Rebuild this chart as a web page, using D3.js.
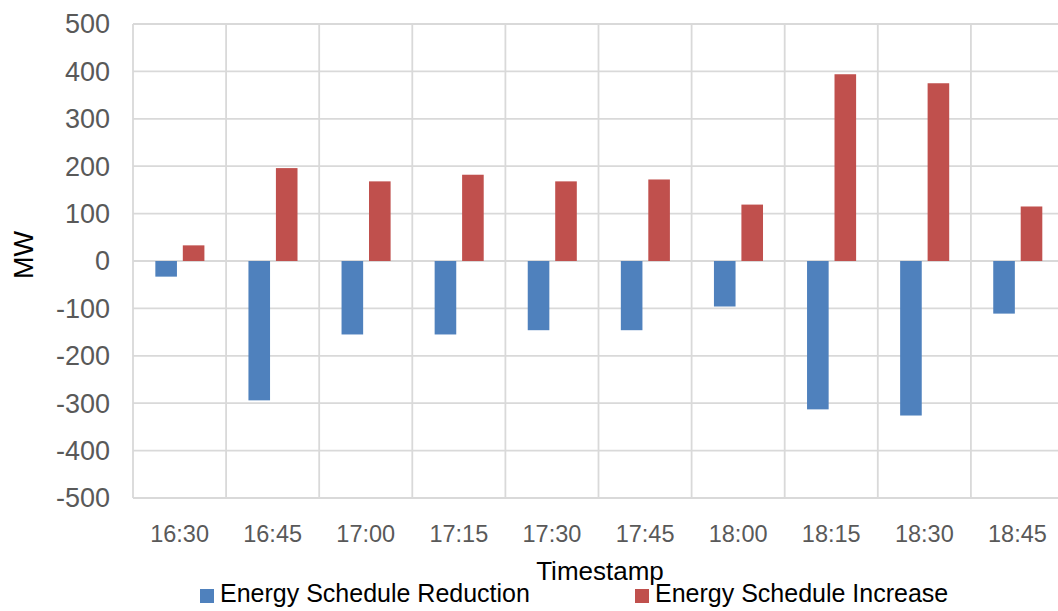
<!DOCTYPE html>
<html>
<head>
<meta charset="utf-8">
<script src="https://cdn.jsdelivr.net/npm/d3@7"></script>
<style>
  body { margin: 0; background: #fff; }
  svg { display: block; font-family: "Liberation Sans", Arial, sans-serif; }
</style>
</head>
<body>
<svg id="chart" width="1058" height="611"></svg>
<script>
// data
var timestamps = ["16:30", "16:45", "17:00", "17:15", "17:30", "17:45", "18:00", "18:15", "18:30", "18:45"];
var reduction = [-33, -294, -155, -155, -146, -146, -96, -313, -326, -111];
var increase = [33, 196, 168, 182, 168, 172, 119, 394, 375, 115];
var yTicks = [500, 400, 300, 200, 100, 0, -100, -200, -300, -400, -500];
var seriesNames = ["Energy Schedule Reduction", "Energy Schedule Increase"];
var colors = ["#4F81BD", "#C0504D"];

var svg = d3.select('#chart');
// plot box (right edge runs past the picture, as in the original crop)
var plotLeft = 133, plotRight = 1064, plotTop = 24, plotBottom = 498;

var x = d3.scaleBand().domain(timestamps).range([plotLeft, plotRight]);
var y = d3.scaleLinear().domain([-500, 500]).range([plotBottom, plotTop]);
var bw = x.bandwidth();

// gridlines
var grid = svg.append('g').attr('stroke', '#d9d9d9').attr('stroke-width', 1.8);
grid.selectAll('line.h').data(yTicks).enter().append('line')
    .attr('x1', plotLeft).attr('x2', plotRight)
    .attr('y1', function (d) { return y(d); })
    .attr('y2', function (d) { return y(d); });
grid.selectAll('line.v').data(timestamps.concat(['end'])).enter().append('line')
    .attr('x1', function (d, i) { return plotLeft + i * bw; })
    .attr('x2', function (d, i) { return plotLeft + i * bw; })
    .attr('y1', plotTop).attr('y2', plotBottom);

// bars
var series = [reduction, increase];
var offsets = [0.24, 0.535];
series.forEach(function (vals, s) {
    svg.append('g').selectAll('rect').data(vals).enter().append('rect')
        .attr('x', function (d, i) { return x(timestamps[i]) + offsets[s] * bw; })
        .attr('width', 0.232 * bw)
        .attr('y', function (d) { return Math.min(y(d), y(0)); })
        .attr('height', function (d) { return Math.abs(y(d) - y(0)); })
        .attr('fill', colors[s]);
});

// y tick labels
svg.append('g').selectAll('text').data(yTicks).enter().append('text')
    .attr('x', 110)
    .attr('y', function (d) { return y(d); })
    .attr('dy', '0.35em')
    .attr('text-anchor', 'end')
    .attr('font-size', 27)
    .attr('fill', '#595959')
    .text(function (d) { return d; });

// x tick labels
svg.append('g').selectAll('text').data(timestamps).enter().append('text')
    .attr('x', function (d) { return x(d) + bw / 2; })
    .attr('y', 542)
    .attr('text-anchor', 'middle')
    .attr('font-size', 23.5)
    .attr('fill', '#595959')
    .text(function (d) { return d; });

// axis titles
svg.append('text')
    .attr('transform', 'translate(33,255) rotate(-90)')
    .attr('text-anchor', 'middle')
    .attr('font-size', 27)
    .attr('fill', '#000')
    .text('MW');

svg.append('text')
    .attr('x', 600).attr('y', 580)
    .attr('text-anchor', 'middle')
    .attr('font-size', 26)
    .attr('fill', '#000')
    .text('Timestamp');

// legend
var legendX = [200, 635];
seriesNames.forEach(function (name, s) {
    var g = svg.append('g').attr('transform', 'translate(' + legendX[s] + ',0)');
    g.append('rect').attr('x', 0).attr('y', 589).attr('width', 14).attr('height', 14).attr('fill', colors[s]);
    g.append('text').attr('x', 20).attr('y', 602)
        .attr('font-size', 25)
        .attr('fill', '#000')
        .text(name);
});
</script>
</body>
</html>
